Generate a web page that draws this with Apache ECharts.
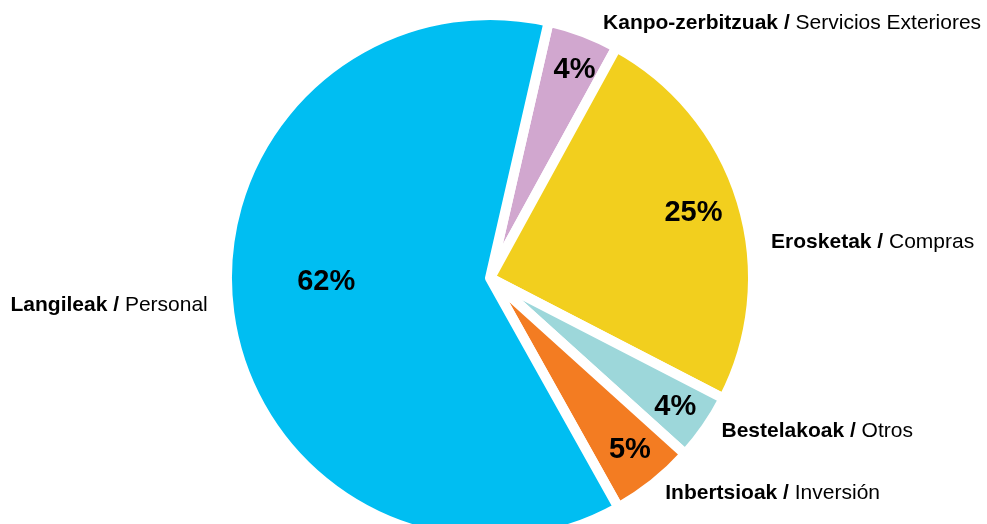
<!DOCTYPE html>
<html>
<head>
<meta charset="utf-8">
<script src="https://cdn.jsdelivr.net/npm/echarts@6/dist/echarts.min.js"></script>
<style>
  html, body { margin: 0; padding: 0; background: #fff; }
  #chart { width: 987px; height: 524px; }
</style>
</head>
<body>
<div id="chart"></div>
<script>
// order goes clockwise from the top
const boldNames = ['Kanpo-zerbitzuak', 'Erosketak', 'Bestelakoak', 'Inbertsioak', 'Langileak']
const plainNames = ['Servicios Exteriores', 'Compras', 'Otros', 'Inversión', 'Personal']
const shares = [4.4, 24.6, 4.1, 5.2, 61.7]
const colors = ['#D1A7CF', '#F2CF1E', '#9DD7DA', '#F37C22', '#00BEF2']

// small label nudges [dx, dy]
const outerNudge = [[-4, 0], [0, 44], [-13, -2], [-15, 2], [8, -12]]
const innerNudge = [[7, -4], [-5, -1], [6, 5], [4, 2], [52, -27]]

const font = "'Liberation Sans', Arial, sans-serif"
const center = [490, 278]
const startAngle = 77.1

const chart = echarts.init(document.getElementById('chart'), null, { renderer: 'canvas' })

const pieData = shares.map((v, i) => ({
  value: v,
  name: boldNames[i],
  itemStyle: { color: colors[i] }
}))

const option = {
  backgroundColor: '#fff',
  animation: false,
  series: [
    {
      name: 'pie',
      type: 'pie',
      center: center,
      radius: [0, 263],
      startAngle: startAngle,
      clockwise: true,
      avoidLabelOverlap: false,
      silent: true,
      data: pieData,
      itemStyle: {
        borderColor: '#fff',
        borderWidth: 10
      },
      label: {
        show: true,
        position: 'outside',
        overflow: 'none',
        distanceToLabelLine: 5,
        formatter: (p) => '{b|' + boldNames[p.dataIndex] + ' / }{n|' + plainNames[p.dataIndex] + '}',
        rich: {
          b: { fontFamily: font, fontSize: 21, fontWeight: 'bold', color: '#000' },
          n: { fontFamily: font, fontSize: 21, color: '#000' }
        }
      },
      labelLine: { show: false, length: 10, length2: 15 },
      labelLayout: (p) => ({ dx: outerNudge[p.dataIndex][0], dy: outerNudge[p.dataIndex][1] })
    },
    {
      // transparent copy only for the percentages inside the slices
      name: 'pct',
      type: 'pie',
      center: center,
      radius: [0, 430],
      startAngle: startAngle,
      clockwise: true,
      avoidLabelOverlap: false,
      silent: true,
      percentPrecision: 0,
      data: shares.map((v, i) => ({ value: v, name: boldNames[i] })),
      itemStyle: { color: 'rgba(0,0,0,0)' },
      label: {
        show: true,
        position: 'inside',
        formatter: '{d}%',
        fontFamily: font,
        fontSize: 29,
        fontWeight: 'bold',
        color: '#000'
      },
      labelLine: { show: false },
      labelLayout: (p) => ({ dx: innerNudge[p.dataIndex][0], dy: innerNudge[p.dataIndex][1] })
    }
  ]
}

chart.setOption(option)
</script>
</body>
</html>
